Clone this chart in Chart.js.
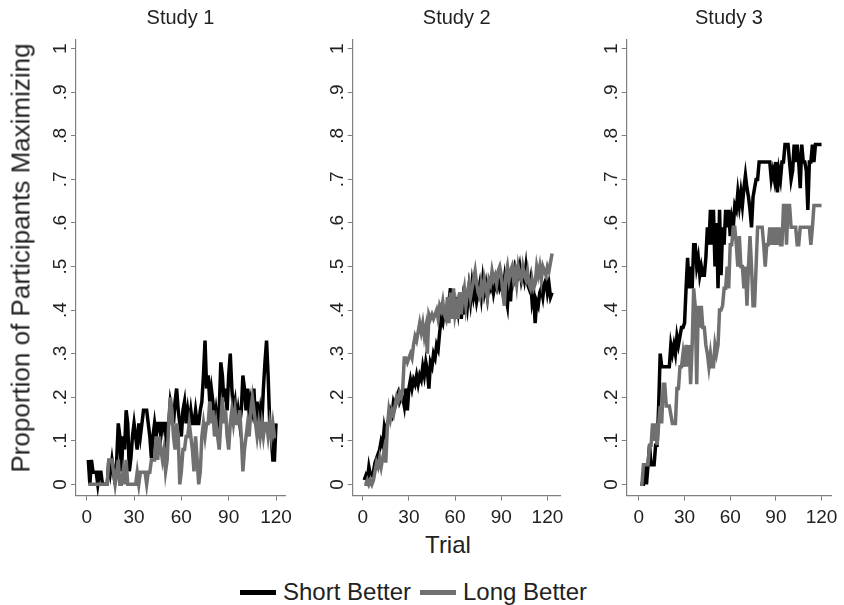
<!DOCTYPE html>
<html>
<head>
<meta charset="utf-8">
<script src="https://cdn.jsdelivr.net/npm/chart.js@4.4.1/dist/chart.umd.min.js"></script>
<style>
html,body{margin:0;padding:0;background:#fff;}
body{width:844px;height:605px;position:relative;overflow:hidden;font-family:"Liberation Sans",Arial,Helvetica,sans-serif;}
canvas{position:absolute;top:0;}
#ytitle{position:absolute;left:21px;top:258px;transform:translate(-50%,-50%) rotate(-90deg);white-space:nowrap;font-size:26px;color:#222;}
#xtitle{position:absolute;left:448px;top:545px;transform:translate(-50%,-50%);font-size:24px;color:#222;white-space:nowrap;}
.lg{position:absolute;top:592px;transform:translateY(-50%);font-size:24px;color:#222;white-space:nowrap;display:flex;align-items:center;}
.sw{display:inline-block;width:36px;height:5px;margin-right:7px;}
</style>
</head>
<body>
<canvas id="c1" width="270" height="530" style="left:30px"></canvas>
<canvas id="c2" width="270" height="530" style="left:305px"></canvas>
<canvas id="c3" width="264" height="530" style="left:580px"></canvas>
<div id="ytitle">Proportion of Participants Maximizing</div>
<div id="xtitle">Trial</div>
<div class="lg" style="left:240px"><span class="sw" style="background:#000"></span><span id="lgShort"></span></div>
<div class="lg" style="left:420px"><span class="sw" style="background:#707070"></span><span id="lgLong"></span></div>
<script>
// ---- data ----
const seriesNames = ["Short Better", "Long Better"];
const panelTitles = ["Study 1", "Study 2", "Study 3"];
const xTickValues = [0, 30, 60, 90, 120];
const yTickValues = [0, .1, .2, .3, .4, .5, .6, .7, .8, .9, 1];
const yTickLabels = ["0", ".1", ".2", ".3", ".4", ".5", ".6", ".7", ".8", ".9", "1"];

const study1Short = [
 .056,0,.056,.028,.028,.028,0,.028,.028,0,
 0,0,0,.056,.028,.056,.028,0,.056,.14,
 .11,.03,.11,.08,.17,.14,.03,.06,.11,.14,
 .11,.08,.14,.11,.14,.17,.17,.17,.14,.11,
 .06,.11,.14,.11,.14,.14,.11,.14,.14,.11,
 .14,.14,.19,.17,.14,.19,.22,.17,.14,.11,
 .17,.19,.14,.17,.14,.17,.14,.14,.17,.14,
 .14,.17,.19,.25,.33,.22,.25,.19,.22,.19,
 .14,.17,.14,.17,.28,.25,.19,.22,.17,.25,
 .3,.22,.17,.19,.14,.17,.14,.17,.25,.22,
 .17,.22,.14,.19,.17,.22,.14,.19,.14,.17,
 .14,.22,.28,.33,.25,.14,.11,.056,.056,.14];
const study1Long = [
 0,0,0,0,0,0,0,0,0,0,
 0,0,0,.056,.056,.056,.028,0,.028,.056,
 0,0,.028,0,.056,0,0,0,0,0,
 0,.028,0,.028,.028,.028,.028,0,.028,.028,
 .056,.056,.056,.11,.056,.11,.08,.056,.08,.03,
 .056,.14,.2,.17,.11,.08,.14,.11,0,.03,
 .08,.08,.11,.11,.14,.11,.08,.03,.11,.056,
 0,.03,.11,.14,.11,.14,.14,.19,.14,.17,
 .11,.14,.11,.08,.14,.2,.14,.17,.11,.08,
 .14,.17,.14,.17,.14,.14,.17,.11,.03,.08,
 .11,.14,.11,.17,.2,.17,.14,.11,.14,.11,
 .14,.11,.14,.14,.11,.14,.11,.14,.11,.11];
const study2Short = [
 .01,.02,.01,.04,.02,.02,.03,.05,.06,.07,
 .08,.1,.09,.13,.11,.14,.15,.17,.16,.19,
 .18,.2,.21,.19,.2,.2,.18,.22,.17,.22,
 .24,.22,.24,.23,.25,.23,.25,.24,.27,.25,
 .28,.26,.22,.28,.27,.3,.29,.32,.31,.35,
 .38,.37,.4,.39,.41,.42,.45,.4,.44,.38,
 .43,.4,.44,.38,.42,.39,.44,.41,.45,.42,
 .46,.43,.45,.42,.44,.46,.43,.47,.44,.46,
 .43,.46,.45,.47,.44,.46,.45,.47,.45,.46,
 .44,.47,.43,.41,.47,.42,.48,.47,.5,.49,
 .48,.5,.47,.49,.47,.5,.46,.45,.47,.42,
 .44,.37,.42,.41,.44,.45,.43,.46,.47,.44,
 .46,.43,.44];
const study2Long = [
 0,0,.01,0,.01,0,.01,.03,.05,.04,
 .06,.04,.06,.08,.05,.13,.17,.15,.17,.16,
 .18,.2,.19,.21,.2,.22,.29,.29,.28,.29,
 .3,.29,.32,.34,.33,.35,.37,.35,.37,.34,
 .36,.3,.39,.38,.39,.38,.39,.4,.38,.41,
 .4,.42,.39,.38,.43,.37,.44,.38,.45,.39,
 .41,.38,.44,.39,.43,.45,.41,.44,.46,.43,
 .45,.47,.49,.46,.44,.43,.46,.44,.47,.45,
 .43,.47,.46,.49,.47,.48,.46,.49,.5,.48,
 .44,.41,.48,.5,.47,.49,.5,.47,.49,.46,
 .5,.48,.47,.5,.48,.47,.49,.46,.45,.47,
 .45,.46,.5,.48,.5,.47,.5,.49,.48,.5,
 .49,.51,.53];
const study3Short = [
 0,0,0,.045,0,.045,.09,.045,.045,.045,
 .09,.09,.18,.3,.27,.27,.27,.27,.27,.27,
 .32,.3,.32,.3,.34,.32,.34,.36,.36,.37,
 .45,.52,.45,.5,.45,.55,.55,.5,.52,.48,
 .5,.48,.48,.52,.59,.55,.63,.55,.63,.5,
 .6,.45,.63,.48,.59,.55,.63,.59,.63,.57,
 .61,.59,.64,.63,.67,.64,.67,.64,.68,.71,
 .68,.66,.63,.59,.66,.68,.7,.7,.74,.74,
 .74,.74,.74,.74,.74,.74,.7,.72,.7,.74,
 .67,.72,.7,.74,.74,.78,.78,.78,.74,.7,
 .72,.78,.74,.78,.74,.68,.78,.74,.74,.72,
 .63,.74,.74,.78,.74,.78,.78,.78,.78,.78];
const study3Long = [
 0,0,.045,.045,.045,.045,.09,.09,.14,.1,
 .14,.09,.14,.18,.14,.23,.23,.18,.18,.18,
 .16,.14,.14,.14,.22,.22,.27,.27,.3,.27,
 .32,.27,.32,.23,.32,.45,.41,.23,.41,.36,
 .41,.36,.36,.32,.3,.27,.3,.27,.27,.32,
 .3,.32,.4,.4,.41,.45,.45,.5,.45,.55,
 .55,.59,.59,.55,.5,.57,.5,.5,.45,.5,
 .41,.5,.57,.5,.41,.41,.5,.59,.59,.59,
 .59,.55,.5,.55,.55,.59,.55,.59,.55,.59,
 .55,.59,.55,.55,.64,.64,.55,.64,.64,.59,
 .59,.59,.59,.55,.55,.59,.59,.59,.59,.59,
 .59,.59,.55,.59,.64,.64,.64,.64,.64,.64];

// ---- layout / style ----
const FONT = '"Liberation Sans", Arial, Helvetica, sans-serif';
const SHORT_COLOR = '#000000';
const LONG_COLOR = '#707070';
const AXIS_COLOR = '#808080';
const TEXT_COLOR = '#222222';

document.getElementById('lgShort').textContent = seriesNames[0];
document.getElementById('lgLong').textContent = seriesNames[1];

function toPoints(arr) { return arr.map((v, i) => ({ x: i + 1, y: v })); }

function makePanel(id, title, shortVals, longVals, lay) {
  new Chart(document.getElementById(id), {
    type: 'line',
    data: {
      datasets: [
        { label: seriesNames[1], data: toPoints(longVals), borderColor: LONG_COLOR, borderWidth: 3.5, pointRadius: 0, tension: 0, order: 0, borderJoinStyle: 'miter' },
        { label: seriesNames[0], data: toPoints(shortVals), borderColor: SHORT_COLOR, borderWidth: 3.5, pointRadius: 0, tension: 0, order: 1, borderJoinStyle: 'miter' }
      ]
    },
    options: {
      responsive: false, animation: false, devicePixelRatio: 1,
      layout: { padding: { left: 0, right: lay.padRight, top: 0, bottom: 0 } },
      plugins: {
        legend: { display: false }, tooltip: { enabled: false },
        title: { display: true, text: title, fullSize: false, color: '#222', font: { family: FONT, size: 20, weight: 'normal' }, padding: { top: 6, bottom: 10 } }
      },
      scales: {
        x: {
          type: 'linear', min: lay.xMin, max: lay.xMax,
          afterBuildTicks: (s) => { s.ticks = xTickValues.map(v => ({ value: v })); },
          afterFit: (s) => { s.height = 34.3; },
          grid: { display: true, drawOnChartArea: false, drawTicks: true, tickLength: 5, color: AXIS_COLOR, lineWidth: 1 },
          border: { display: true, color: AXIS_COLOR, width: 1.2 },
          ticks: { color: TEXT_COLOR, font: { family: FONT, size: 19 }, padding: 6, maxRotation: 0, autoSkip: false }
        },
        y: {
          type: 'linear', min: -0.026, max: 1.02,
          afterBuildTicks: (s) => { s.ticks = yTickValues.map(v => ({ value: v })); },
          afterFit: (s) => { s.width = lay.yWidth; },
          grid: { display: true, drawOnChartArea: false, drawTicks: true, tickLength: 5, color: AXIS_COLOR, lineWidth: 1 },
          border: { display: true, color: AXIS_COLOR, width: 1.2 },
          ticks: {
            color: TEXT_COLOR, font: { family: FONT, size: 19 }, padding: 2, minRotation: 90, maxRotation: 90,
            crossAlign: 'center', autoSkip: false,
            callback: (v) => { const i = yTickValues.findIndex(t => Math.abs(t - v) < 1e-9); return i >= 0 ? yTickLabels[i] : ''; }
          }
        }
      }
    }
  });
}

makePanel('c1', panelTitles[0], study1Short, study1Long, { xMin: -6.8, xMax: 125.7, yWidth: 46, padRight: 15 });
makePanel('c2', panelTitles[1], study2Short, study2Long, { xMin: -6.5, xMax: 128.6, yWidth: 47.7, padRight: 14.3 });
makePanel('c3', panelTitles[2], study3Short, study3Long, { xMin: -8.0, xMax: 126.3, yWidth: 46.7, padRight: 6 });
</script>
</body>
</html>
